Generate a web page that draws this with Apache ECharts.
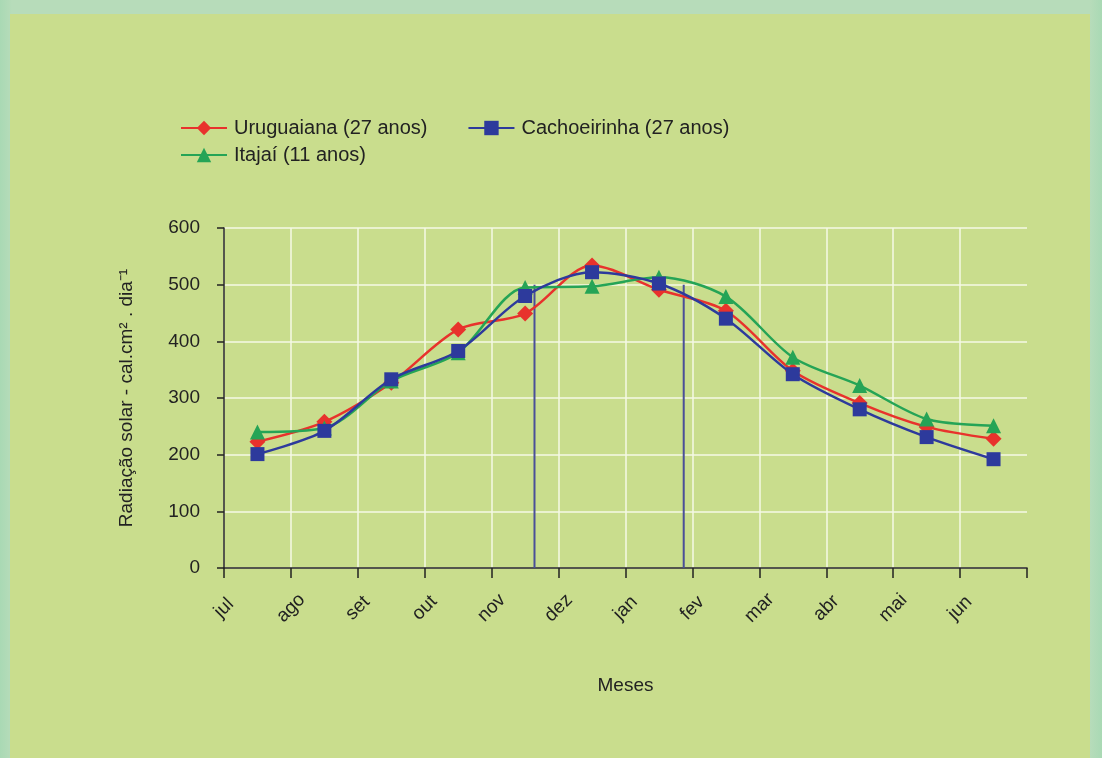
<!DOCTYPE html>
<html>
<head>
<meta charset="utf-8">
<script src="https://cdn.jsdelivr.net/npm/echarts@6/dist/echarts.min.js"></script>
<style>
  html, body { margin: 0; padding: 0; width: 1102px; height: 758px; overflow: hidden; }
  body { background: linear-gradient(90deg, #a9d9b4 0px, #b7dcba 12px, #b7dcba 1090px, #a9d9b4 1102px); }
  #frame { position: absolute; left: 10px; top: 14px; right: 12px; bottom: 0; background: #c9dd8d; }
  #chart { position: absolute; left: 0; top: 0; width: 1102px; height: 758px; }
</style>
</head>
<body>
<div id="frame"></div>
<div id="chart"></div>
<script>
// meses (rótulos dos ticks do eixo x)
const months = ['jul', 'ago', 'set', 'out', 'nov', 'dez', 'jan', 'fev', 'mar', 'abr', 'mai', 'jun']
// posição dos pontos: meio de cada mês
const monthPos = [0.5, 1.5, 2.5, 3.5, 4.5, 5.5, 6.5, 7.5, 8.5, 9.5, 10.5, 11.5]

const uruguaiana = [223, 258, 327, 421, 449, 534, 491, 454, 348, 291, 249, 228]
const cachoeirinha = [201, 242, 333, 383, 480, 522, 502, 440, 342, 280, 231, 192]
const itajai = [240, 247, 330, 380, 495, 497, 513, 479, 372, 322, 263, 251]

// linhas verticais
const vlineX = [4.64, 6.87]
const vlineTop = 500

const pair = (ys) => ys.map((y, i) => [monthPos[i], y])

const chart = echarts.init(document.getElementById('chart'))
const font = 'Liberation Sans, Arial, sans-serif'

const vSeries = vlineX.map((x) => ({
  type: 'line',
  data: [[x, 0], [x, vlineTop]],
  showSymbol: false,
  silent: true,
  lineStyle: { color: '#4a4f98', width: 2 },
  z: 1,
}))

const legendText = { fontSize: 20, color: '#222', fontFamily: font, padding: [0, 0, 0, 2] }

chart.setOption({
  backgroundColor: 'transparent',
  animation: false,
  textStyle: { fontFamily: font },
  legend: [
    {
      data: ['Uruguaiana (27 anos)', 'Cachoeirinha (27 anos)'],
      left: 175, top: 113,
      itemWidth: 46, itemHeight: 18, itemGap: 40,
      textStyle: legendText,
    },
    {
      data: ['Itajaí (11 anos)'],
      left: 175, top: 140,
      itemWidth: 46, itemHeight: 18,
      textStyle: legendText,
    },
  ],
  grid: { left: 224, right: 75, top: 228, bottom: 190 },
  xAxis: {
    type: 'value',
    min: 0, max: 12, interval: 1,
    name: 'Meses',
    nameLocation: 'middle',
    nameGap: 108,
    nameTextStyle: { fontSize: 19, color: '#222', fontFamily: font },
    axisLine: { lineStyle: { color: '#222', width: 1.5 } },
    axisTick: { length: 10, lineStyle: { color: '#222', width: 1.5 } },
    axisLabel: {
      rotate: 45, fontSize: 19, color: '#222', margin: 40, fontFamily: font,
      align: 'center', verticalAlign: 'middle',
      formatter: (v) => months[v] || '',
    },
    splitLine: { show: true, showMaxLine: false, lineStyle: { color: '#f4f8e6', width: 1.5 } },
  },
  yAxis: {
    type: 'value',
    min: 0, max: 600, interval: 100,
    name: 'Radiação solar - cal.cm² . dia⁻¹',
    nameLocation: 'middle',
    nameGap: 88,
    nameTextStyle: { fontSize: 19, color: '#222', fontFamily: font },
    axisLine: { show: true, lineStyle: { color: '#222', width: 1.5 } },
    axisTick: { show: true, length: 7, lineStyle: { color: '#222', width: 1.5 } },
    axisLabel: { fontSize: 19, color: '#222', margin: 24, fontFamily: font },
    splitLine: { show: true, lineStyle: { color: '#f4f8e6', width: 1.5 } },
  },
  series: [
    ...vSeries,
    {
      name: 'Uruguaiana (27 anos)',
      type: 'line',
      data: pair(uruguaiana),
      smooth: 0.3,
      symbol: 'diamond', symbolSize: 16,
      lineStyle: { color: '#e8322c', width: 2.5 },
      itemStyle: { color: '#e8322c' },
      z: 3,
    },
    {
      name: 'Itajaí (11 anos)',
      type: 'line',
      data: pair(itajai),
      smooth: 0.3,
      symbol: 'triangle', symbolSize: 15,
      lineStyle: { color: '#25a456', width: 2.5 },
      itemStyle: { color: '#25a456' },
      z: 4,
    },
    {
      name: 'Cachoeirinha (27 anos)',
      type: 'line',
      data: pair(cachoeirinha),
      smooth: 0.3,
      symbol: 'rect', symbolSize: 14,
      lineStyle: { color: '#2d3a9c', width: 2.5 },
      itemStyle: { color: '#2d3a9c' },
      z: 5,
    },
  ],
})
</script>
</body>
</html>
